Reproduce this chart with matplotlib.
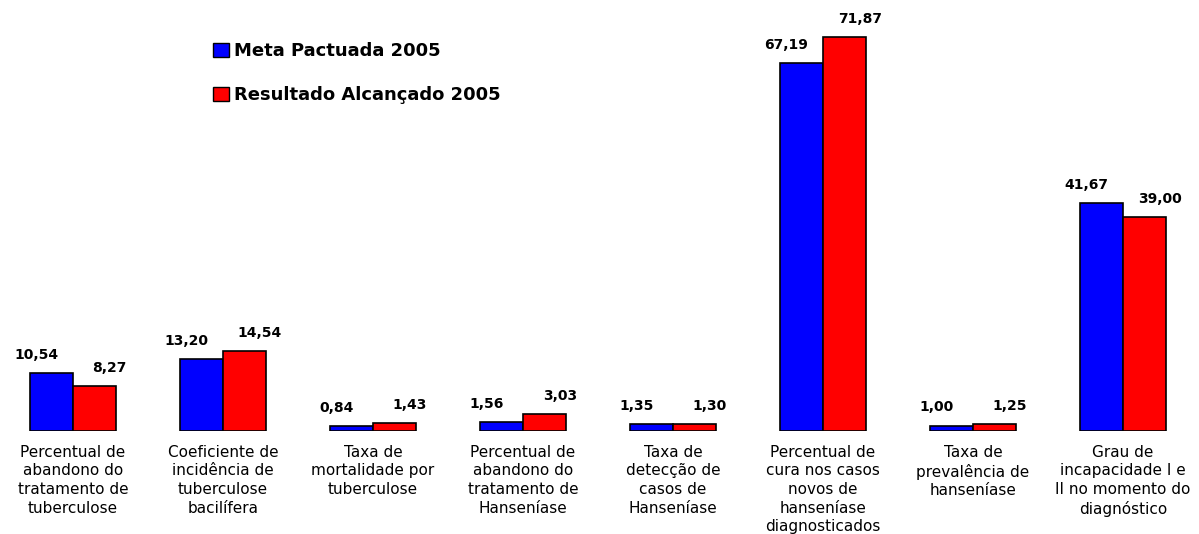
import matplotlib
matplotlib.use('Agg')
from matplotlib import pyplot as plt
from matplotlib.patches import Patch
import numpy as np

plt.rcParams['font.family'] = ['DejaVu Sans']

categorias = [
    'Percentual de\nabandono do\ntratamento de\ntuberculose',
    'Coeficiente de\nincidência de\ntuberculose\nbacilífera',
    'Taxa de\nmortalidade por\ntuberculose',
    'Percentual de\nabandono do\ntratamento de\nHanseníase',
    'Taxa de\ndetecção de\ncasos de\nHanseníase',
    'Percentual de\ncura nos casos\nnovos de\nhanseníase\ndiagnosticados',
    'Taxa de\nprevalência de\nhanseníase',
    'Grau de\nincapacidade I e\nII no momento do\ndiagnóstico',
]
meta = [10.54, 13.20, 0.84, 1.56, 1.35, 67.19, 1.00, 41.67]
resultado = [8.27, 14.54, 1.43, 3.03, 1.30, 71.87, 1.25, 39.00]


def fmt(v):
    return f'{v:.2f}'.replace('.', ',')


fig = plt.figure(figsize=(11.99, 5.34), dpi=100)
ax = fig.add_axes([0, 103 / 534, 1, 431 / 534])

x = np.arange(len(categorias))
w = 0.287
ax.bar(x - w / 2, meta, w, color='#0000ff', edgecolor='black', linewidth=1.2)
ax.bar(x + w / 2, resultado, w, color='#ff0000', edgecolor='black', linewidth=1.2)

# rotulos de valor: azul deslocado p/ esquerda, vermelho p/ direita
for xi, v in zip(x, meta):
    ax.annotate(fmt(v), (xi - w / 2, v), xytext=(-11, 13), textcoords='offset points',
                ha='center', va='center', fontsize=10, fontweight='bold')
for xi, v in zip(x, resultado):
    ax.annotate(fmt(v), (xi + w / 2, v), xytext=(11, 13), textcoords='offset points',
                ha='center', va='center', fontsize=10, fontweight='bold')

ax.set_xlim(-73 / 150, (1199 - 73) / 150)
ax.set_ylim(0, 431 / 5.48)
ax.set_xticks(x)
ax.set_xticklabels(categorias, fontsize=11, linespacing=1.3, va='top')
ax.tick_params(axis='x', length=0, pad=10)
ax.set_yticks([])
for s in ax.spines.values():
    s.set_visible(False)

handles = [Patch(facecolor='#0000ff', edgecolor='black', label='Meta Pactuada 2005'),
           Patch(facecolor='#ff0000', edgecolor='black', label='Resultado Alcançado 2005')]
fig.legend(handles=handles, loc='upper left', bbox_to_anchor=(197 / 1199, 1 - 26 / 534),
           frameon=False, handlelength=0.85, handleheight=0.85, handletextpad=0.3,
           labelspacing=1.45, prop={'weight': 'bold', 'size': 13})

plt.savefig('out.png', dpi=100)
